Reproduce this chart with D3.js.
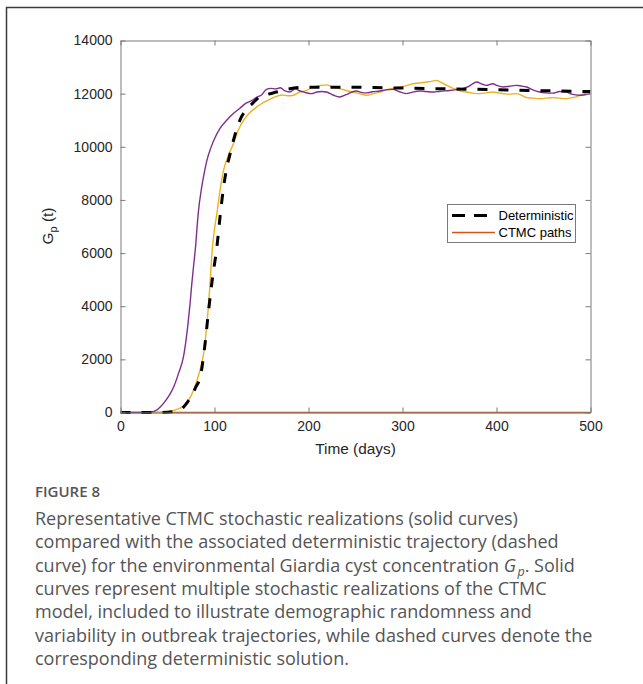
<!DOCTYPE html>
<html><head><meta charset="utf-8">
<script src="https://cdn.jsdelivr.net/npm/d3@7"></script>
<style>
html,body{margin:0;padding:0;background:#fff;}
svg{display:block;}
</style></head>
<body>
<svg id="fig" width="643" height="684"></svg>
<script>
// ---------------- data ----------------
const xTicks = [0, 100, 200, 300, 400, 500];
const yTicks = [0, 2000, 4000, 6000, 8000, 10000, 12000, 14000];

const detT = [0,40,55,62,67,71,76,80,85,89,93.8,98,102.6,106,109.7,113,116.8,121,127,134,141,148,155,166,178,191,210,240,270,300,350,400,450,500];
const detV = [0,0,30,100,200,375,650,950,1363,2300,3866,5100,6243,7400,8495,9200,9760,10350,11000,11400,11650,11880,11960,12060,12170,12230,12240,12240,12230,12210,12180,12150,12110,12080];

const purT = [0,25,33,38,42,47,52,57,62,67,70,72,74,76,78,80,81.5,83,86,89,92,96,100,106,113,120,127,134,140,145,150,155,160,165,170,175,180,186,191,196,203,209,214,219,226,233,240,246,251,256,262,268,276,282,290,296,304,310,318,325,333,340,350,357,364,370,375,379,384,389,396,401,407,414,421,426,432,438,446,452,460,467,474,480,488,494,500];
const purV = [0,0,20,80,200,400,650,1000,1500,2100,2800,3400,4100,4900,5600,6300,7000,7600,8400,9000,9500,9950,10300,10700,11000,11250,11450,11650,11750,11870,11950,12150,12200,12180,12220,12100,12060,12180,12100,12050,12000,12060,12080,12060,11950,11875,11960,12060,12100,12050,12030,12070,12100,12140,12160,12080,12000,12050,12100,12080,12060,12090,12120,12150,12190,12260,12380,12440,12370,12310,12370,12300,12250,12280,12310,12290,12250,12150,12060,12030,12020,12080,12060,11980,11940,11960,12000];

const oraT = [0,30,45,53,60,67,72,78,83,88.5,91,93.8,95.5,97.3,100,102.6,106,109.7,115,120,125,131,138,145,150,157,166,172,178,184,190,198,205,212,219,226,233,240,247,254,262,269,276,283,290,297,304,311,318,326,331,336,341,347,352,357,362,368,375,382,389,396,402,407,414,421,427,432,439,446,453,460,467,474,480,485,491,496,500];
const oraV = [0,0,10,50,120,240,450,860,1400,2240,3000,4120,5000,6000,6900,7500,8400,9120,9700,10100,10600,11000,11300,11500,11620,11750,11900,11950,11920,11940,12050,12120,12250,12300,12330,12250,12190,12120,12060,12000,11940,12000,12060,12150,12200,12250,12300,12370,12400,12440,12460,12500,12420,12310,12230,12160,12100,12060,12020,12000,12030,12060,12030,12000,11980,12000,11930,11850,11830,11810,11830,11850,11830,11810,11850,11880,11960,12050,12130];

const ctmcT = [0, 500];
const ctmcV = [0, 0];

const legendLabels = ["Deterministic", "CTMC paths"];
const captionTitle = "FIGURE 8";
const captionLines = [
  "Representative CTMC stochastic realizations (solid curves)",
  "compared with the associated deterministic trajectory (dashed",
  "curve) for the environmental Giardia cyst concentration |G|. Solid",
  "curves represent multiple stochastic realizations of the CTMC",
  "model, included to illustrate demographic randomness and",
  "variability in outbreak trajectories, while dashed curves denote the",
  "corresponding deterministic solution."
];

// ---------------- drawing ----------------
const svg = d3.select("#fig");
const L = 120.5, R = 590.5, T = 40.5, B = 412.5;
const x = d3.scaleLinear().domain([0, 500]).range([L, R]);
const y = d3.scaleLinear().domain([0, 14000]).range([B, T]);

// outer frame
svg.append("path").attr("d", "M6.5,700 L6.5,7.5 L660,7.5")
  .attr("fill", "none").attr("stroke", "#3a3a3a").attr("stroke-width", 1.5);

const AX = "#7a7a7a";
const FONT = "'Liberation Sans', Arial, sans-serif";

svg.append("clipPath").attr("id", "clip").append("rect")
  .attr("x", L).attr("y", T - 2).attr("width", R - L).attr("height", B - T + 4);

const plot = svg.append("g").attr("clip-path", "url(#clip)");
const mk = (ts, vs) => ts.map((t, i) => [t, vs[i]]);
const line = d3.line().x(d => x(d[0])).y(d => y(d[1])).curve(d3.curveMonotoneX);

plot.append("path").datum(mk(ctmcT, ctmcV)).attr("d", line)
  .attr("fill", "none").attr("stroke", "#D95319").attr("stroke-width", 1.6);
plot.append("path").datum(mk(oraT, oraV)).attr("d", line)
  .attr("fill", "none").attr("stroke", "#EDB120").attr("stroke-width", 1.4).attr("stroke-linejoin", "round");
plot.append("path").datum(mk(purT, purV)).attr("d", line)
  .attr("fill", "none").attr("stroke", "#7E2F8E").attr("stroke-width", 1.4).attr("stroke-linejoin", "round");
plot.append("path").datum(mk(detT, detV)).attr("d", line)
  .attr("fill", "none").attr("stroke", "#000").attr("stroke-width", 3).attr("stroke-dasharray", "10,11");

// axes
const fmt = d3.format("d");
const xb = svg.append("g").attr("transform", `translate(0,${B})`)
  .call(d3.axisBottom(x).tickValues(xTicks).tickFormat(fmt).tickSize(-5).tickPadding(9).tickSizeOuter(0));
const xt = svg.append("g").attr("transform", `translate(0,${T})`)
  .call(d3.axisTop(x).tickValues(xTicks).tickSize(-5).tickFormat("").tickSizeOuter(0));
const yl = svg.append("g").attr("transform", `translate(${L},0)`)
  .call(d3.axisLeft(y).tickValues(yTicks).tickFormat(fmt).tickSize(-5).tickPadding(8).tickSizeOuter(0));
const yr = svg.append("g").attr("transform", `translate(${R},0)`)
  .call(d3.axisRight(y).tickValues(yTicks).tickSize(-5).tickFormat("").tickSizeOuter(0));
[xb, xt, yl, yr].forEach(g => {
  g.select(".domain").attr("stroke", AX);
  g.selectAll(".tick line").attr("stroke", AX);
  g.selectAll("text").attr("fill", "#262626").style("font-family", FONT).style("font-size", "14px");
});

// axis labels
svg.append("text").attr("x", (L + R) / 2).attr("y", 454).attr("text-anchor", "middle")
  .style("font-family", FONT).style("font-size", "15.4px").attr("fill", "#262626").text("Time (days)");
const yLab = svg.append("text").attr("transform", "translate(53,226) rotate(-90)").attr("text-anchor", "middle")
  .style("font-family", FONT).style("font-size", "15.4px").attr("fill", "#262626");
yLab.append("tspan").text("G");
yLab.append("tspan").attr("dy", 4).style("font-size", "11px").text("p");
yLab.append("tspan").attr("dy", -4).text(" (t)");

// legend
const lg = svg.append("g");
lg.append("rect").attr("x", 447.5).attr("y", 204.5).attr("width", 128).attr("height", 38)
  .attr("fill", "#fff").attr("stroke", AX).attr("stroke-width", 1);
lg.append("line").attr("x1", 452).attr("x2", 495).attr("y1", 215.5).attr("y2", 215.5)
  .attr("stroke", "#000").attr("stroke-width", 3).attr("stroke-dasharray", "13,9");
lg.append("line").attr("x1", 452).attr("x2", 495).attr("y1", 232.5).attr("y2", 232.5)
  .attr("stroke", "#D95319").attr("stroke-width", 1.6);
legendLabels.forEach((s, i) => {
  lg.append("text").attr("x", 498.5).attr("y", 215.5 + i * 17).attr("dy", "0.35em")
    .style("font-family", FONT).style("font-size", "13px").attr("fill", "#000").text(s);
});

// caption
const CF = "'Open Sans', 'Noto Sans', sans-serif";
svg.append("text").attr("x", 35).attr("y", 497).style("font-family", CF).style("font-size", "15px")
  .style("font-weight", 600).attr("fill", "#555").text(captionTitle);
captionLines.forEach((s, i) => {
  const t = svg.append("text").attr("x", 35).attr("y", 525 + i * 23.3)
    .style("font-family", CF).style("font-size", "18px").attr("fill", "#555");
  const parts = s.split("|");
  if (parts.length === 1) { t.text(s); return; }
  t.append("tspan").text(parts[0]);
  t.append("tspan").style("font-style", "italic").text(parts[1]);
  t.append("tspan").attr("dx", 1.5).attr("dy", 4).style("font-style", "italic").style("font-size", "12.5px").text("p");
  t.append("tspan").attr("dy", -4).text(parts[2]);
});
</script>
</body></html>
